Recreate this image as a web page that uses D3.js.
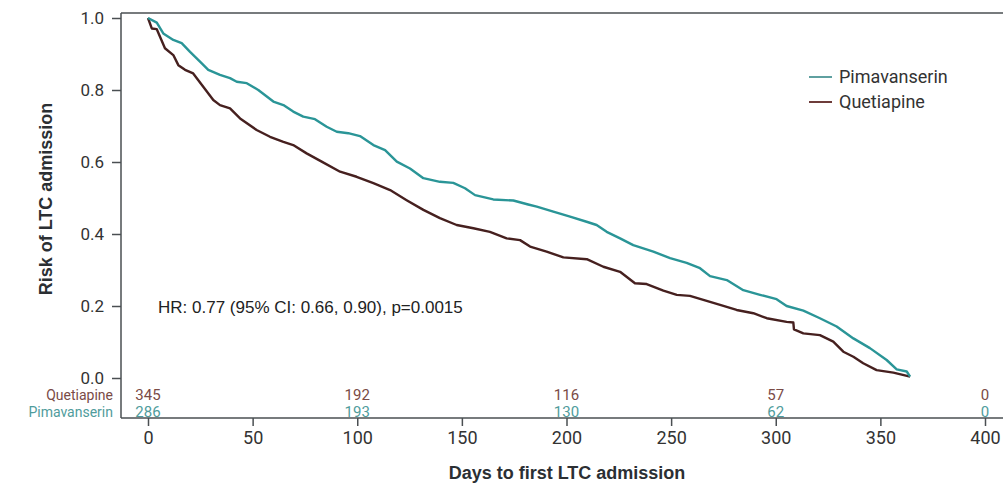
<!DOCTYPE html>
<html>
<head>
<meta charset="utf-8">
<script src="https://cdn.jsdelivr.net/npm/d3@7"></script>
<style>
  html, body { margin: 0; padding: 0; background: #fff; }
  svg { display: block; font-family: "Liberation Sans", Arial, sans-serif; }
</style>
</head>
<body>
<svg id="chart" width="1003" height="484"></svg>
<script>
// Kaplan-Meier style curves: [day, risk]
const pimaDays = [0, 4.2, 7.3, 12.1, 16.1, 20.1, 25.7, 28.8, 34.4, 39.2, 42.4, 47.2, 52.7, 59.9, 64.7, 69.4, 74.2, 79.8, 85.4, 90.2, 95.7, 101.3, 107.7, 113.3, 118.9, 125.2, 131.6, 139.5, 145.9, 151.5, 156.3, 165.0, 174.6, 181.7, 185.8, 193.7, 201.7, 209.6, 214.4, 219.2, 225.6, 231.9, 241.5, 249.5, 257.4, 263.8, 268.6, 276.6, 284.5, 292.5, 300.4, 305.2, 313.2, 321.1, 329.1, 337.1, 345.0, 353.0, 357.8, 362.6, 364.2];
const pimaRisk = [1.0, 0.987, 0.957, 0.939, 0.930, 0.906, 0.874, 0.856, 0.842, 0.833, 0.823, 0.819, 0.800, 0.768, 0.758, 0.740, 0.726, 0.719, 0.698, 0.684, 0.680, 0.672, 0.647, 0.633, 0.601, 0.582, 0.555, 0.545, 0.542, 0.527, 0.508, 0.496, 0.493, 0.482, 0.476, 0.462, 0.448, 0.434, 0.425, 0.406, 0.388, 0.369, 0.351, 0.333, 0.320, 0.305, 0.283, 0.272, 0.244, 0.231, 0.219, 0.200, 0.187, 0.166, 0.143, 0.110, 0.083, 0.050, 0.024, 0.018, 0.004];

const quetDays = [0, 1.8, 4.2, 8.1, 12.1, 14.5, 17.7, 21.6, 26.4, 31.2, 34.4, 39.2, 44.0, 51.9, 58.3, 64.7, 69.4, 75.8, 83.0, 91.8, 99.7, 107.7, 115.7, 123.6, 131.6, 139.5, 147.5, 155.5, 163.4, 171.4, 177.8, 182.6, 190.5, 198.5, 209.7, 217.6, 225.6, 232.7, 238.3, 246.3, 252.7, 259.0, 267.0, 273.4, 281.3, 289.3, 295.7, 305.2, 308.4, 308.7, 313.2, 321.1, 327.5, 332.3, 337.1, 341.8, 348.2, 356.2, 364.2];
const quetRisk = [1.0, 0.971, 0.969, 0.916, 0.897, 0.869, 0.856, 0.846, 0.809, 0.772, 0.758, 0.749, 0.721, 0.689, 0.670, 0.656, 0.647, 0.624, 0.601, 0.573, 0.559, 0.541, 0.522, 0.494, 0.467, 0.444, 0.425, 0.416, 0.406, 0.388, 0.383, 0.365, 0.351, 0.335, 0.330, 0.309, 0.295, 0.263, 0.261, 0.243, 0.231, 0.228, 0.214, 0.203, 0.189, 0.180, 0.166, 0.156, 0.154, 0.135, 0.124, 0.119, 0.101, 0.073, 0.059, 0.041, 0.022, 0.015, 0.004];

// numbers at risk
const riskDays = [0, 100, 200, 300, 400];
const quetAtRisk = [345, 192, 116, 57, 0];
const pimaAtRisk = [286, 193, 130, 62, 0];

const xTicks = [0, 50, 100, 150, 200, 250, 300, 350, 400];
const yTicks = [0, 0.2, 0.4, 0.6, 0.8, 1.0];

const teal = "#2a9597", brown = "#46201f";
const tealText = "#4f9c9c", brownText = "#7a4b46";

const svg = d3.select("#chart");
const x = d3.scaleLinear().domain([0, 400]).range([148, 985]);
const y = d3.scaleLinear().domain([0, 1]).range([378, 18]);

const axisColor = "#4a4f52";
const plotLeft = 121, plotTop = 13, plotBottom = 418;

// frame line on top
svg.append("line").attr("x1", plotLeft).attr("x2", 1003).attr("y1", plotTop).attr("y2", plotTop)
  .attr("stroke", axisColor).attr("stroke-width", 1.5);

// y axis
const yAxis = svg.append("g").attr("transform", `translate(${plotLeft},0)`)
  .call(d3.axisLeft(y).tickValues(yTicks).tickFormat(d3.format(".1f")).tickSize(9).tickPadding(8).tickSizeOuter(0));
yAxis.select(".domain").attr("d", `M0,${plotTop}V${plotBottom}`);
yAxis.selectAll(".tick text").style("font-size", "17px");

// x axis
const xAxis = svg.append("g").attr("transform", `translate(0,${plotBottom})`)
  .call(d3.axisBottom(x).tickValues(xTicks).tickSize(8).tickPadding(5).tickSizeOuter(0));
xAxis.select(".domain").attr("d", `M${plotLeft},0H1003`);
xAxis.selectAll(".tick text").style("font-size", "18px");

svg.selectAll(".domain").attr("stroke", axisColor).attr("stroke-width", 1.5);
svg.selectAll(".tick line").attr("stroke", axisColor).attr("stroke-width", 1.5);
svg.selectAll(".tick text").attr("fill", "#333")
  .style("font-family", "Roboto, 'Liberation Sans', sans-serif");

// axis titles
svg.append("text").attr("transform", "translate(52,199) rotate(-90)")
  .attr("text-anchor", "middle").attr("fill", "#2b2f33")
  .style("font-size", "18px").style("font-weight", "bold")
  .text("Risk of LTC admission");
svg.append("text").attr("x", 567).attr("y", 479)
  .attr("text-anchor", "middle").attr("fill", "#2b2f33")
  .style("font-size", "18px").style("font-weight", "bold")
  .text("Days to first LTC admission");

// curves
const line = d3.line().x(d => x(d[0])).y(d => y(d[1]));
const series = [
  { name: "Quetiapine", days: quetDays, risk: quetRisk, color: brown },
  { name: "Pimavanserin", days: pimaDays, risk: pimaRisk, color: teal }
];
series.forEach(s => {
  svg.append("path")
    .datum(s.days.map((d, i) => [d, s.risk[i]]))
    .attr("d", line)
    .attr("fill", "none")
    .attr("stroke", s.color)
    .attr("stroke-width", 2.4)
    .attr("stroke-linejoin", "round");
});

// legend
const legend = [
  { name: "Pimavanserin", color: "#5fa0a0" },
  { name: "Quetiapine", color: "#6e3c3a" }
];
legend.forEach((l, i) => {
  const ly = 77 + i * 25;
  svg.append("line").attr("x1", 809).attr("x2", 832).attr("y1", ly).attr("y2", ly)
    .attr("stroke", l.color).attr("stroke-width", 2);
  svg.append("text").attr("x", 839).attr("y", ly + 6)
    .attr("fill", "#333").style("font-size", "18px")
    .style("font-family", "Roboto, sans-serif")
    .text(l.name);
});

// HR annotation
svg.append("text").attr("x", 158).attr("y", 313)
  .attr("fill", "#222").style("font-size", "17px")
  .text("HR: 0.77 (95% CI: 0.66, 0.90), p=0.0015");

// numbers at risk table
const rows = [
  { name: "Quetiapine", vals: quetAtRisk, color: brownText, yy: 400 },
  { name: "Pimavanserin", vals: pimaAtRisk, color: tealText, yy: 417 }
];
rows.forEach(r => {
  svg.append("text").attr("x", 113).attr("y", r.yy)
    .attr("text-anchor", "end").attr("fill", r.color)
    .style("font-size", "14px").style("font-family", "Roboto, sans-serif")
    .text(r.name);
  svg.selectAll(null).data(r.vals).enter().append("text")
    .attr("x", (d, i) => x(riskDays[i]))
    .attr("y", r.yy)
    .attr("text-anchor", "middle").attr("fill", r.color)
    .style("font-size", "15px").style("font-family", "Roboto, sans-serif")
    .text(d => d);
});
</script>
</body>
</html>
